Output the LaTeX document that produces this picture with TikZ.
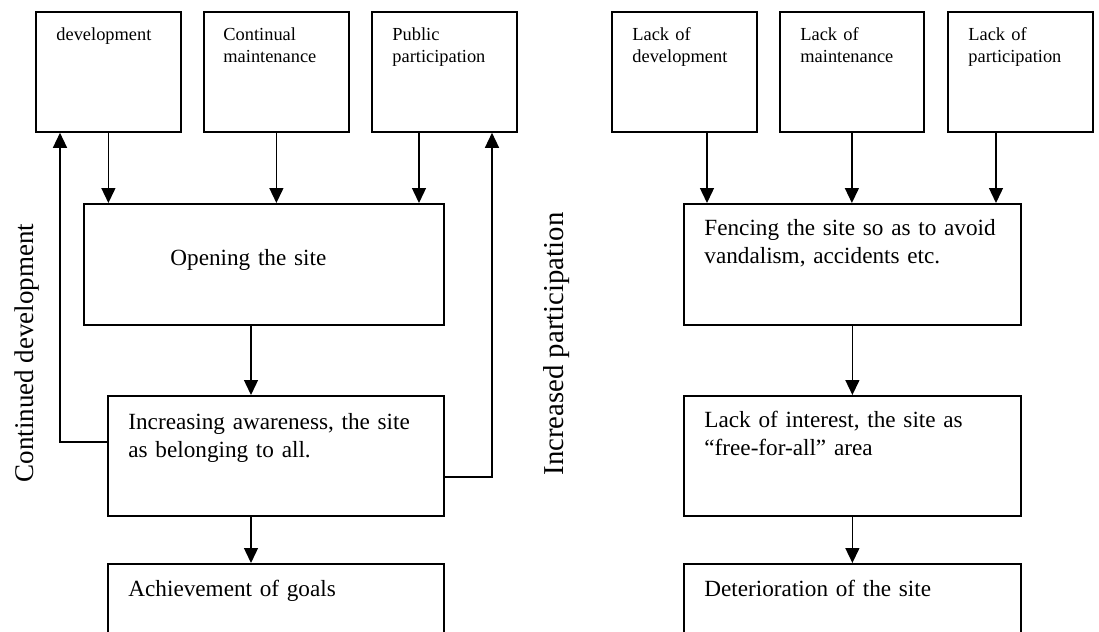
\documentclass[tikz,border=0pt]{standalone}
\usepackage{fontspec}
\setmainfont{Liberation Serif}
\usetikzlibrary{arrows.meta, positioning, calc}

\tikzset{
  stage/.style={draw, line width=0.9pt, anchor=north west, inner sep=0pt},
  lbl/.style={anchor=base west, inner sep=0pt, align=left, text width=160pt, font=\fontsize{11.6}{14}\selectfont},
  slbl/.style={anchor=base west, inner sep=0pt, align=left, text width=60pt, font=\fontsize{9.2}{11}\selectfont},
  flow/.style={-{Triangle[length=7.5pt,width=7pt]}, line width=0.7pt},
  side/.style={rotate=90, anchor=base, inner sep=0pt, font=\fontsize{14}{16}\selectfont}
}

\begin{document}
\begin{tikzpicture}[x=0.5pt, y=-0.5pt]
			\useasboundingbox (0,0) rectangle (1099,632);
			\clip (0,0) rectangle (1099,632);
			
			% Top row, left side
			\node[stage, minimum width=72.5pt, minimum height=60pt] (dev) at (35,11) {};
			\node[stage, minimum width=72.5pt, minimum height=60pt] (maint) at (203,11) {};
			\node[stage, minimum width=72.5pt, minimum height=60pt] (publ) at (371,11) {};
			\node[slbl] (dev-t) at ($(dev.north west)+(21,29)$) {development};
			\node[slbl] (maint-t) at ($(maint.north west)+(20,29)$) {Continual\\maintenance};
			\node[slbl] (publ-t) at ($(publ.north west)+(21,29)$) {Public\\participation};
			
			% Top row, right side
			\node[stage, minimum width=72.5pt, minimum height=60pt] (ldev) at (611,11) {};
			\node[stage, minimum width=72pt, minimum height=60pt] (lmaint) at (779,11) {};
			\node[stage, minimum width=72.5pt, minimum height=60pt] (lpart) at (947,11) {};
			\node[slbl] (ldev-t) at ($(ldev.north west)+(21,29)$) {Lack of\\development};
			\node[slbl] (lmaint-t) at ($(lmaint.north west)+(21,29)$) {Lack of\\maintenance};
			\node[slbl] (lpart-t) at ($(lpart.north west)+(21,29)$) {Lack of\\participation};
			
			% Left chain
			\node[stage, minimum width=180pt, minimum height=60.5pt] (open) at (83,203) {};
			\node[stage, minimum width=168pt, minimum height=60pt] (incr) at (107,395) {};
			\node[stage, minimum width=168pt, minimum height=60pt] (achv) at (107,563) {};
			\node[lbl] (open-t) at ($(open.north west)+(87,62)$) {Opening the site};
			\node[lbl] (incr-t) at ($(incr.north west)+(21,34)$) {Increasing awareness, the site\\as belonging to all.};
			\node[lbl] (achv-t) at ($(achv.north west)+(21,33)$) {Achievement of goals};
			
			% Right chain
			\node[stage, minimum width=168.5pt, minimum height=60.5pt] (fence) at (683,203) {};
			\node[stage, minimum width=168.5pt, minimum height=60pt] (intr) at (683,395) {};
			\node[stage, minimum width=168.5pt, minimum height=60pt] (deter) at (683,563) {};
			\node[lbl] (fence-t) at ($(fence.north west)+(21,32)$) {Fencing the site so as to avoid\\vandalism, accidents etc.};
			\node[lbl] (intr-t) at ($(intr.north west)+(21,32)$) {Lack of interest, the site as\\``free-for-all'' area};
			\node[lbl] (deter-t) at ($(deter.north west)+(21,33)$) {Deterioration of the site};
			
			% Side captions
			\node[side, font=\fontsize{13.5}{16}\selectfont] (cdev) at (33,353) {Continued development};
			\node[side, font=\fontsize{14.4}{16}\selectfont] (ipart) at (563,344) {Increased participation};
			
			% Arrows down
			\draw[flow] (dev.south) -- (dev.south |- open.north);
			\draw[flow] (maint.south) -- (maint.south |- open.north);
			\draw[flow] (publ.south -| 419,0) -- (open.north -| 419,0);
			\draw[flow] (ldev.south -| 707,0) -- (fence.north -| 707,0);
			\draw[flow] (lmaint.south) -- (lmaint.south |- fence.north);
			\draw[flow] (lpart.south -| 996,0) -- (fence.north -| 996,0);
			\draw[flow] (open.south -| 251,0) -- (incr.north -| 251,0);
			\draw[flow] (incr.south -| 251,0) -- (achv.north -| 251,0);
			\draw[flow] (fence.south) -- (intr.north);
			\draw[flow] (intr.south) -- (deter.north);
			
			% Feedback loops
			\draw[flow] (incr.west |- 0,442) -| (dev.south -| 60,0);
			\draw[flow] (incr.east |- 0,477) -| (publ.south -| 492,0);
		\end{tikzpicture}
\end{document}
